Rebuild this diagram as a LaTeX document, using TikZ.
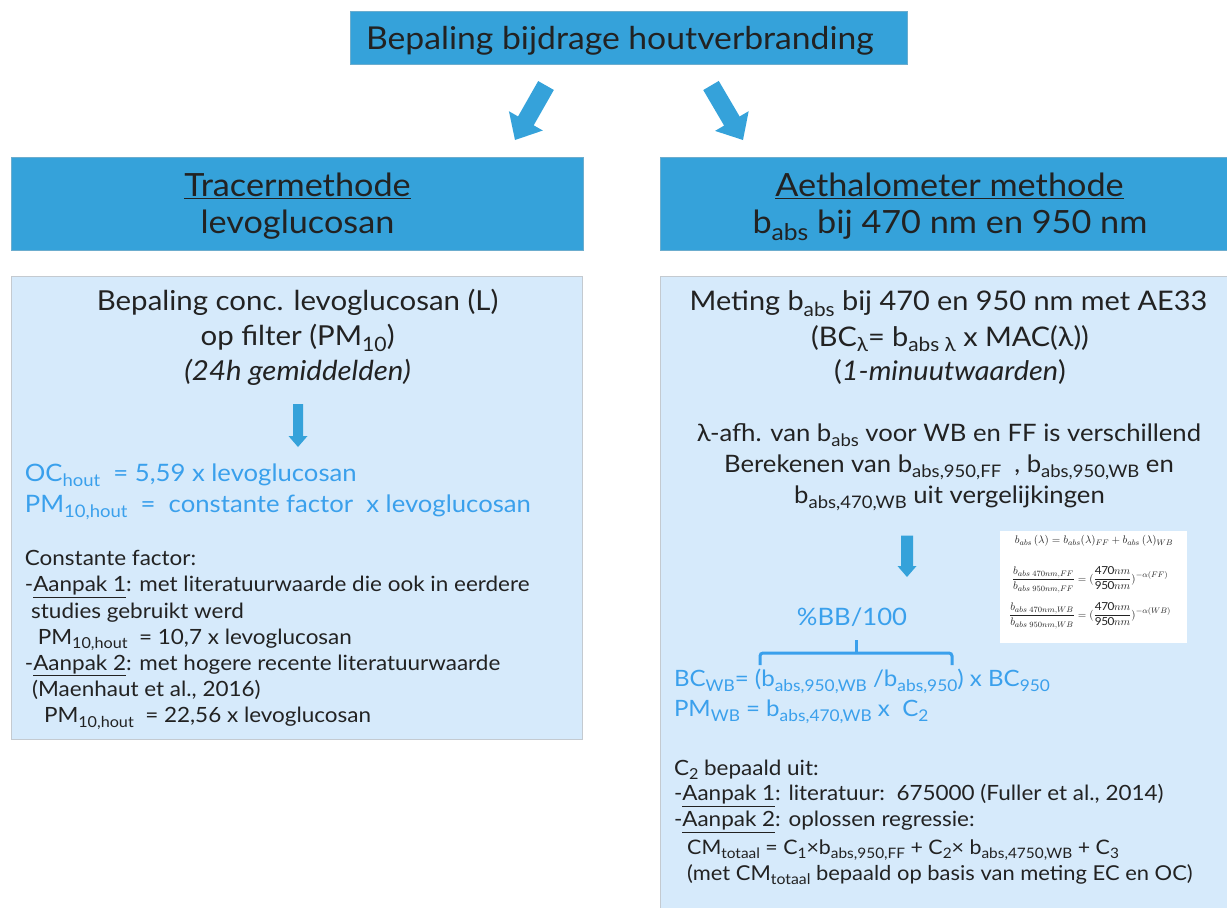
\documentclass[tikz,border=0pt]{standalone}
\usepackage{fontspec}
\setmainfont{Lato}[FakeStretch=1.07]
\usetikzlibrary{calc}
\definecolor{hdr}{RGB}{53,162,218}
\definecolor{lightbox}{RGB}{214,234,251}
\definecolor{boxedge}{RGB}{196,202,208}
\definecolor{tblue}{RGB}{58,160,236}
\definecolor{txt}{RGB}{34,34,34}
\newcommand\sbs[1]{\raisebox{-0.22em}{\scalebox{0.72}{#1}}}
\newcommand\fs[1]{\fontsize{#1}{#1}\selectfont}
\newcommand\blockarrow[6]{%
  \coordinate (#1h) at ($(#3)!#6!(#2)$);
  \fill[hdr] ($(#2)!#4!90:(#3)$) -- ($(#1h)!#4!90:(#3)$) -- ($(#1h)!#5!90:(#3)$) -- (#3)
    -- ($(#1h)!#5!-90:(#3)$) -- ($(#1h)!#4!-90:(#3)$) -- ($(#2)!#4!-90:(#3)$) -- cycle;}
\tikzset{
  hbox/.style={fill=hdr, draw=hdr!85!black!70, line width=0.5pt, anchor=north west, inner sep=0pt},
  lbox/.style={fill=lightbox, draw=boxedge, line width=0.8pt, anchor=north west, inner sep=0pt},
  tl/.style={inner sep=0pt, text=txt, anchor=base west},
  tc/.style={inner sep=0pt, text=txt, anchor=base},
  bl/.style={inner sep=0pt, text=tblue, anchor=base west},
}
\begin{document}
\begin{tikzpicture}[x=1pt,y=-1pt]
\useasboundingbox (0,0) rectangle (1227,908);
% boxes
\node[hbox, minimum width=557pt, minimum height=53pt] (top) at (350,11) {};
\node[hbox, minimum width=572pt, minimum height=93pt] (lhead) at (11,157) {};
\node[hbox, minimum width=570pt, minimum height=93pt] (rhead) at (660,157) {};
\node[lbox, minimum width=571pt, minimum height=463pt] (lbody) at (11,276) {};
\node[lbox, minimum width=570pt, minimum height=634pt] (rbody) at (660,276) {};
% title
\node[tc] (title) at (620,49.3) {\fs{31.5}Bepaling bijdrage houtverbranding};
% big arrows
\coordinate (la0) at (546,85.5); \coordinate (la1) at (515,140);
\coordinate (ra0) at (711,85.5); \coordinate (ra1) at (743,140);
\blockarrow{la}{la0}{la1}{9pt}{19.5pt}{22pt}
\blockarrow{ra}{ra0}{ra1}{9pt}{19.5pt}{22pt}
% headers
\node[tc] (lh1) at (297.5,196.7) {\fs{32}\underline{Tracermethode}};
\node[tc] (lh2) at (297.5,233.3) {\fs{32}levoglucosan};
\node[tc] (rh1) at (949.5,196.7) {\fs{32}\underline{Aethalometer methode}};
\node[tc] (rh2) at (950,233.3) {\fs{32}b\sbs{abs} bij 470 nm en 950 nm};
% left body
\node[tc] (l1) at (297.6,310.7) {\fs{27.5}Bepaling conc. levoglucosan (L)};
\node[tc] (l2) at (297.6,345) {\fs{27.5}op filter (PM\sbs{10})};
\node[tc] (l3) at (297.6,380) {\fs{27.5}\textit{(24h gemiddelden)}};
\coordinate (sa0) at (298,404); \coordinate (sa1) at (298,447);
\blockarrow{sa}{sa0}{sa1}{5pt}{9.5pt}{11pt}
\node[bl] (l4) at (24.7,481.7) {\fs{24}OC\sbs{hout}\ \ = 5,59 x levoglucosan};
\node[bl] (l5) at (24.7,512.7) {\fs{24}PM\sbs{10,hout}\ \ =\ \ constante factor\ \ x levoglucosan};
\node[tl] (l6) at (24.7,565) {\fs{21}Constante factor:};
\node[tl] (l7) at (24.7,591.7) {\fs{21}-\underline{Aanpak 1}: met literatuurwaarde die ook in eerdere};
\node[tl] (l8) at (31,618) {\fs{21}studies gebruikt werd};
\node[tl] (l9) at (37.6,644) {\fs{21}PM\sbs{10,hout}\ \ = 10,7 x levoglucosan};
\node[tl] (l10) at (24.7,670) {\fs{21}-\underline{Aanpak 2}: met hogere recente literatuurwaarde};
\node[tl] (l11) at (32,696.7) {\fs{21}(Maenhaut et al., 2016)};
\node[tl] (l12) at (43.8,722.7) {\fs{21}PM\sbs{10,hout}\ \ = 22,56 x levoglucosan};
% right body
\node[tc] (r1) at (948.5,310.7) {\fs{27}Meting b\sbs{abs} bij 470 en 950 nm met AE33};
\node[tc] (r2) at (950,346) {\fs{27}(BC\sbs{λ}= b\sbs{abs λ} x MAC(λ))};
\node[tc] (r3) at (950,380) {\fs{27}(\textit{1-minuutwaarden})};
\node[tc] (r4) at (949,441.7) {\fs{24}λ-afh. van b\sbs{abs} voor WB en FF is verschillend};
\node[tc] (r5) at (949,472.7) {\fs{24}Berekenen van b\sbs{abs,950,FF}\ \ , b\sbs{abs,950,WB} en};
\node[tc] (r6) at (949.5,503.3) {\fs{24}b\sbs{abs,470,WB} uit vergelijkingen};
\coordinate (ta0) at (907,535.5); \coordinate (ta1) at (907,577);
\blockarrow{ta}{ta0}{ta1}{6pt}{9.5pt}{11pt}
% equation image
\node[fill=white, anchor=north west, minimum width=187pt, minimum height=112pt, inner sep=0pt] (eqbox) at (1000,531) {};
\node[inner sep=0pt, text=txt] (eq1) at (1094,541) {\fs{11}$b_{abs}\,(\lambda) = b_{abs}(\lambda)_{FF} + b_{abs}\,(\lambda)_{WB}$};
\node[inner sep=0pt, text=txt] (eq2) at (1090,580) {\fs{11}$\displaystyle \frac{b_{abs\;470nm,FF}}{b_{abs\;950nm,FF}} = (\frac{\mathrm{470}nm}{\mathrm{950}nm})^{-\alpha(FF)}$};
\node[inner sep=0pt, text=txt] (eq3) at (1090,616) {\fs{11}$\displaystyle \frac{b_{abs\;470nm,WB}}{b_{abs\;950nm,WB}} = (\frac{\mathrm{470}nm}{\mathrm{950}nm})^{-\alpha(WB)}$};
% brace
\node[inner sep=0pt, text=tblue, anchor=base] (bb) at (852,625) {\fs{24}\%BB/100};
\coordinate (br1) at (760,665); \coordinate (br2) at (952,665); \coordinate (brm) at (856,640);
\draw[tblue, line width=3pt, rounded corners=3pt] (br1) -- (760,653) -- (952,653) -- (br2);
\draw[tblue, line width=3pt] (856,654) -- (brm);
\node[bl] (r7) at (673.8,686.7) {\fs{22.5}BC\sbs{WB}= (b\sbs{abs,950,WB} /b\sbs{abs,950}) x BC\sbs{950}};
\node[bl] (r8) at (673.8,716.7) {\fs{22.5}PM\sbs{WB} = b\sbs{abs,470,WB} x\ \ C\sbs{2}};
\node[tl] (r9) at (673.8,775) {\fs{21}C\sbs{2} bepaald uit:};
\node[tl] (r10) at (673.8,800.7) {\fs{21}-\underline{Aanpak 1}: literatuur:\ \ 675000 (Fuller et al., 2014)};
\node[tl] (r11) at (673.8,826.7) {\fs{21}-\underline{Aanpak 2}: oplossen regressie:};
\node[tl] (r12) at (687,854) {\fs{20}CM\sbs{totaal} = C\sbs{1}×b\sbs{abs,950,FF}\ + C\sbs{2}× b\sbs{abs,4750,WB}\ + C\sbs{3}};
\node[tl] (r13) at (687,880) {\fs{20.5}(met CM\sbs{totaal} bepaald op basis van meting EC en OC)};
\end{tikzpicture}
\end{document}
